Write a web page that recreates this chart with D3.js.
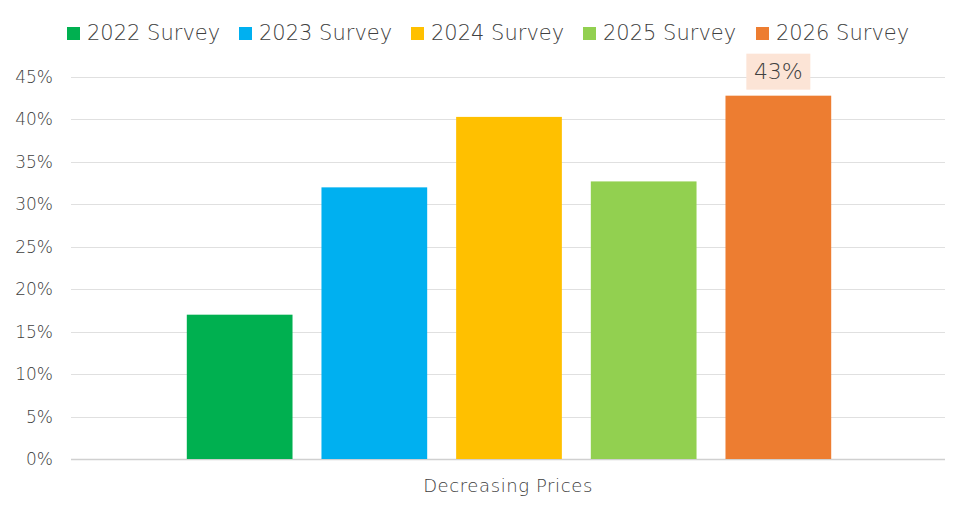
<!DOCTYPE html>
<html>
<head>
<meta charset="utf-8">
<script src="https://cdn.jsdelivr.net/npm/d3@7"></script>
<style>
  body { margin: 0; background: #fff; }
  text { font-family: "DejaVu Sans", sans-serif; font-weight: 200; fill: #404040; }
</style>
</head>
<body>
<div id="vis"></div>
<script>
// data
var category = "Decreasing Prices";
var surveys = ["2022 Survey", "2023 Survey", "2024 Survey", "2025 Survey", "2026 Survey"];
var values = [0.17, 0.32, 0.403, 0.327, 0.428];
var colors = ["#00B050", "#00B0F0", "#FFC000", "#92D050", "#ED7D31"];
var yTicks = [0, 0.05, 0.1, 0.15, 0.2, 0.25, 0.3, 0.35, 0.4, 0.45];

var width = 969, height = 511;
var margin = { top: 77, left: 71, bottom: 52, right: 24 };

var svg = d3.select('#vis').append('svg')
  .attr('width', width)
  .attr('height', height);

var x0 = d3.scaleBand()
  .domain([category])
  .range([margin.left, width - margin.right]);

var x1 = d3.scaleBand()
  .domain(surveys)
  .range([x0(category) + 2, x0(category) + x0.bandwidth()])
  .paddingInner(0.215)
  .paddingOuter(0.845);

var y = d3.scaleLinear()
  .domain([0, 0.45])
  .range([height - margin.bottom, margin.top]);

// gridlines
svg.append('g')
  .selectAll('line')
  .data(yTicks)
  .enter().append('line')
  .attr('x1', margin.left)
  .attr('x2', width - margin.right)
  .attr('y1', function(d) { return Math.round(y(d)) + 0.5; })
  .attr('y2', function(d) { return Math.round(y(d)) + 0.5; })
  .attr('stroke', function(d) { return d === 0 ? '#d0d0d0' : '#e0e0e0'; })
  .attr('stroke-width', function(d) { return d === 0 ? 1.5 : 1; });

// y tick labels
svg.append('g')
  .selectAll('text')
  .data(yTicks)
  .enter().append('text')
  .attr('x', 53)
  .attr('y', function(d) { return y(d); })
  .attr('dy', '0.35em')
  .attr('text-anchor', 'end')
  .attr('font-size', 17)
  .text(function(d) { return d3.format('.0%')(d); });

// bars
svg.append('g')
  .selectAll('rect')
  .data(values)
  .enter().append('rect')
  .attr('x', function(d, i) { return x1(surveys[i]); })
  .attr('y', function(d) { return y(d); })
  .attr('width', x1.bandwidth())
  .attr('height', function(d) { return y(0) - y(d); })
  .attr('fill', function(d, i) { return colors[i]; });

// data label on last bar
var last = values.length - 1;
var lx = x1(surveys[last]) + x1.bandwidth() / 2;
var ly = y(values[last]) - 24;
svg.append('rect')
  .attr('x', lx - 32)
  .attr('y', ly - 18)
  .attr('width', 64)
  .attr('height', 36)
  .attr('fill', '#FCE4D6');
svg.append('text')
  .attr('x', lx)
  .attr('y', ly)
  .attr('dy', '0.35em')
  .attr('text-anchor', 'middle')
  .attr('font-size', 22)
  .text(d3.format('.0%')(values[last]));

// x category label
svg.append('text')
  .attr('x', x0(category) + x0.bandwidth() / 2)
  .attr('y', 486)
  .attr('dy', '0.35em')
  .attr('text-anchor', 'middle')
  .attr('font-size', 18)
  .attr('letter-spacing', 0.6)
  .text(category);

// legend
var legendX = [67, 239, 411, 583, 756];
var legend = svg.append('g')
  .selectAll('g')
  .data(surveys)
  .enter().append('g')
  .attr('transform', function(d, i) { return 'translate(' + legendX[i] + ',33)'; });
legend.append('rect')
  .attr('x', 0)
  .attr('y', -6)
  .attr('width', 13)
  .attr('height', 13)
  .attr('fill', function(d, i) { return colors[i]; });
legend.append('text')
  .attr('x', 20)
  .attr('y', 0)
  .attr('dy', '0.35em')
  .attr('font-size', 21)
  .text(function(d) { return d; });
</script>
</body>
</html>
